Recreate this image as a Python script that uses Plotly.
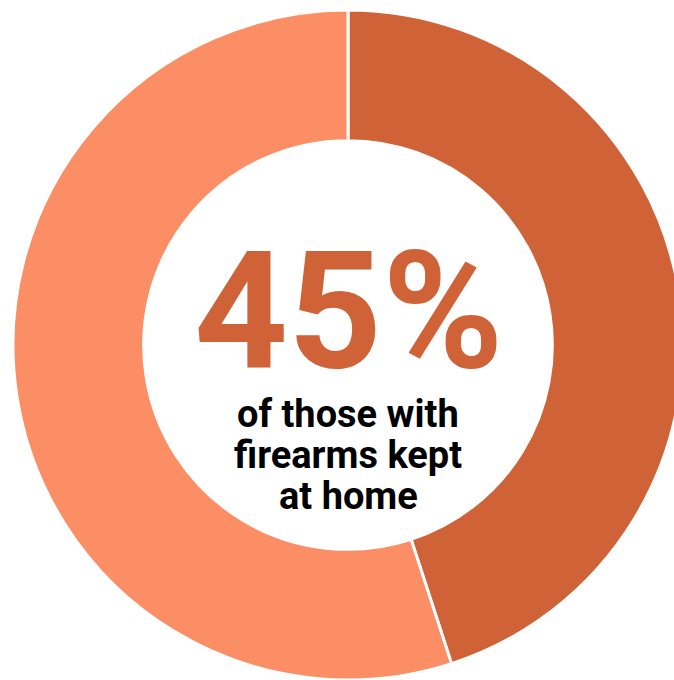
import plotly.graph_objects as go

labels = ["Kept at home", "Other"]
values = [45, 55]
colors = ["#D06237", "#FB8E64"]
big_text = "45%"
sub_lines = ["of those with", "firearms kept", "at home"]

W, H = 696, 690
cx, cy, r = 348, 345, 335
FONT = "Roboto, Arial, sans-serif"

fig = go.Figure(go.Pie(
    labels=labels, values=values, hole=0.61, sort=False,
    direction="clockwise", rotation=0,
    marker=dict(colors=colors, line=dict(color="white", width=3)),
    textinfo="none", hoverinfo="skip",
    domain=dict(x=[(cx - r) / W, (cx + r) / W], y=[(H - cy - r) / H, (H - cy + r) / H]),
))

annos = [dict(text=f"<b>{big_text}</b>", x=cx / W, y=1 - 311 / H, xref="paper", yref="paper",
              showarrow=False, xanchor="center", yanchor="middle",
              font=dict(family=FONT, size=164, color="#D06237"))]
for i, line in enumerate(sub_lines):
    annos.append(dict(text=f"<b>{line}</b>", x=cx / W, y=1 - (414 + 41 * i) / H,
                      xref="paper", yref="paper", showarrow=False,
                      xanchor="center", yanchor="middle",
                      font=dict(family=FONT, size=38, color="black")))

fig.update_layout(width=W, height=H, margin=dict(l=0, r=0, t=0, b=0),
                  showlegend=False, paper_bgcolor="white", plot_bgcolor="white",
                  annotations=annos)

fig.write_html("out.html", post_script="document.body.style.margin='0';document.body.style.overflow='hidden';document.documentElement.style.overflow='hidden';")
